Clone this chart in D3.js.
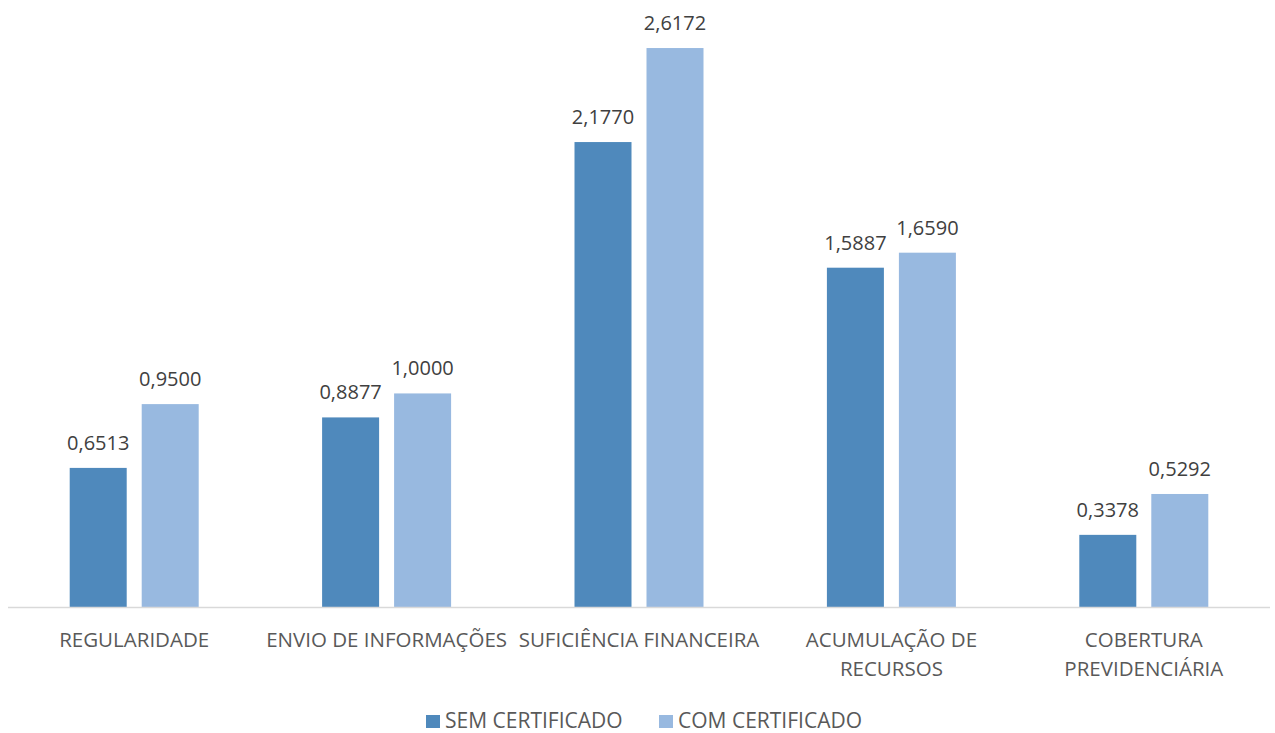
<!DOCTYPE html>
<html>
<head>
<meta charset="utf-8">
<script src="https://cdn.jsdelivr.net/npm/d3@7"></script>
<style>
  html, body { margin: 0; padding: 0; background: #fff; }
  svg { display: block; font-family: "Open Sans", "Noto Sans", sans-serif; }
</style>
</head>
<body>
<svg id="chart" width="1275" height="733"></svg>
<script>
// Indicator categories (multi-line labels split on "\n")
const categories = [
  "REGULARIDADE",
  "ENVIO DE INFORMAÇÕES",
  "SUFICIÊNCIA FINANCEIRA",
  "ACUMULAÇÃO DE\nRECURSOS",
  "COBERTURA\nPREVIDENCIÁRIA"
];
const seriesNames = ["SEM CERTIFICADO", "COM CERTIFICADO"];
const semCertificado = [0.6513, 0.8877, 2.1770, 1.5887, 0.3378];
const comCertificado = [0.9500, 1.0000, 2.6172, 1.6590, 0.5292];

const colors = ["#4f89bc", "#98b9e0"];

const svg = d3.select("#chart");
const plot = { left: 8, right: 1270, top: 9, bottom: 607 };

const x0 = d3.scaleBand().domain(categories).range([plot.left, plot.right]).padding(0);
const x1 = d3.scaleBand().domain(seriesNames).range([0, x0.bandwidth()])
  .paddingInner(0.2083).paddingOuter(0.857);
const y = d3.scaleLinear().domain([0, 2.8]).range([plot.bottom, plot.top]);

const fmt = v => d3.format(".4f")(v).replace(".", ",");

const rows = categories.map((c, i) => ({
  cat: c,
  values: [
    { s: seriesNames[0], v: semCertificado[i] },
    { s: seriesNames[1], v: comCertificado[i] }
  ]
}));

const groups = svg.append("g").selectAll("g").data(rows).join("g")
  .attr("transform", d => `translate(${x0(d.cat)},0)`);

groups.selectAll("rect").data(d => d.values).join("rect")
  .attr("x", d => x1(d.s))
  .attr("width", x1.bandwidth())
  .attr("y", d => y(d.v))
  .attr("height", d => y(0) - y(d.v))
  .attr("fill", (d, i) => colors[i]);

groups.selectAll("text.val").data(d => d.values).join("text")
  .attr("class", "val")
  .attr("x", d => x1(d.s) + x1.bandwidth() / 2)
  .attr("y", d => y(d.v) - 18)
  .attr("text-anchor", "middle")
  .attr("font-size", 20)
  .attr("fill", "#404040")
  .text(d => fmt(d.v));

// Baseline axis
svg.append("line")
  .attr("x1", plot.left).attr("x2", plot.right)
  .attr("y1", y(0) + 0.5).attr("y2", y(0) + 0.5)
  .attr("stroke", "#d9d9d9").attr("stroke-width", 1.5);

// Category labels
const xAxis = svg.append("g");
categories.forEach(c => {
  const cx = x0(c) + x0.bandwidth() / 2;
  const t = xAxis.append("text")
    .attr("x", cx)
    .attr("y", 647)
    .attr("text-anchor", "middle")
    .attr("font-size", 20.5)
    .attr("fill", "#595959");
  c.split("\n").forEach((l, k) => {
    t.append("tspan").attr("x", cx).attr("dy", k === 0 ? 0 : 29).text(l);
  });
});

// Legend
const legendItems = [
  { name: seriesNames[0], x: 426 },
  { name: seriesNames[1], x: 659 }
];
const legend = svg.append("g");
legendItems.forEach((it, i) => {
  legend.append("rect").attr("x", it.x).attr("y", 715).attr("width", 14).attr("height", 13).attr("fill", colors[i]);
  legend.append("text").attr("x", it.x + 19).attr("y", 728)
    .attr("font-size", 21).attr("fill", "#595959").text(it.name);
});
</script>
</body>
</html>
